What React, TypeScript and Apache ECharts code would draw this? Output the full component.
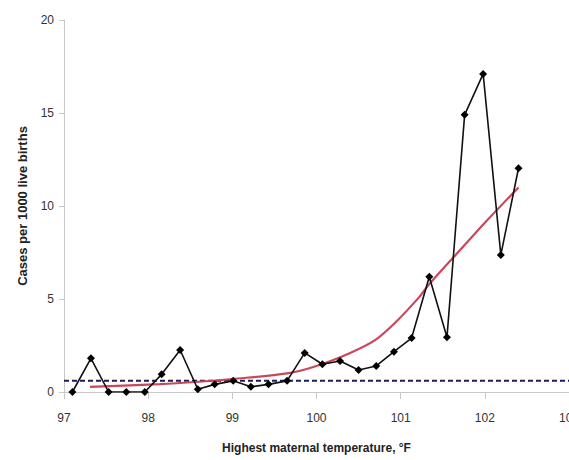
import React, { useEffect, useRef } from "react";
import * as echarts from "echarts";

const tempF = [
  97.1, 97.32, 97.53, 97.74, 97.96, 98.16, 98.38, 98.59, 98.79, 99.01, 99.22, 99.43, 99.65,
  99.86, 100.07, 100.28, 100.5, 100.71, 100.92, 101.13, 101.34, 101.55, 101.76, 101.98, 102.19, 102.4,
];
const cases = [
  0, 1.81, 0, 0, 0, 0.95, 2.26, 0.15, 0.41, 0.6, 0.28, 0.41, 0.6, 2.1, 1.49, 1.67, 1.18, 1.4,
  2.17, 2.9, 6.2, 2.94, 14.9, 17.1, 7.37, 12.03,
];
const fitX = [97.31, 98.14, 98.6, 99.0, 99.65, 100.0, 100.4, 100.7, 100.94, 101.22, 101.34, 101.76, 102.0, 102.4];
const fitY = [0.28, 0.42, 0.55, 0.7, 1.0, 1.4, 2.1, 2.8, 3.75, 5.1, 5.8, 7.9, 9.1, 11.0];
const baselineX = [97, 103];
const baselineValue = 0.6;
const xTicks = [97, 98, 99, 100, 101, 102, 103];
const yTicks = [0, 5, 10, 15, 20];

export default function App() {
  const ref = useRef<HTMLDivElement>(null);
  useEffect(() => {
    if (!ref.current) return;
    const chart = echarts.init(ref.current, null, { renderer: "svg" });
    const font = "'Liberation Sans', Arial, sans-serif";
    chart.setOption({
      animation: false,
      backgroundColor: "#ffffff",
      grid: {
        left: 64,
        right: 0,
        top: 20,
        bottom: 68,
        containLabel: false,
        outerBoundsMode: "none",
      },
      xAxis: {
        type: "value",
        min: xTicks[0],
        max: xTicks[xTicks.length - 1],
        interval: 1,
        name: "Highest maternal temperature, °F",
        nameLocation: "middle",
        nameGap: 50,
        nameTextStyle: { fontFamily: font, fontSize: 12, fontWeight: "bold", color: "#222" },
        axisLine: { lineStyle: { color: "#c8c8c8", width: 1 } },
        axisTick: { show: true, length: 7, lineStyle: { color: "#c8c8c8" } },
        axisLabel: { fontFamily: font, fontSize: 12, color: "#333", margin: 20 },
        splitLine: { show: false },
      },
      yAxis: {
        type: "value",
        min: yTicks[0],
        max: yTicks[yTicks.length - 1],
        interval: 5,
        name: "Cases per 1000 live births",
        nameLocation: "middle",
        nameGap: 35,
        nameTextStyle: { fontFamily: font, fontSize: 13, fontWeight: "bold", color: "#222" },
        axisLine: { show: true, lineStyle: { color: "#c8c8c8", width: 1 } },
        axisTick: { show: true, length: 5, lineStyle: { color: "#c8c8c8" } },
        axisLabel: { fontFamily: font, fontSize: 12, color: "#333", margin: 10 },
        splitLine: { show: false },
      },
      series: [
        {
          type: "line",
          data: baselineX.map((x) => [x, baselineValue]),
          symbol: "none",
          lineStyle: { color: "#1c1c5a", width: 2, type: [5, 3] },
          z: 1,
        },
        {
          type: "line",
          data: fitX.map((x, i) => [x, fitY[i]]),
          symbol: "none",
          smooth: 0.3,
          lineStyle: { color: "#c9475a", width: 2.2 },
          z: 2,
        },
        {
          type: "line",
          data: tempF.map((x, i) => [x, cases[i]]),
          symbol: "diamond",
          symbolSize: 8,
          itemStyle: { color: "#000" },
          lineStyle: { color: "#111", width: 1.6 },
          z: 3,
        },
      ],
    });
    return () => chart.dispose();
  }, []);
  return (
    <div
      ref={ref}
      style={{ position: "fixed", left: 0, top: 0, width: 569, height: 460, background: "#fff" }}
    />
  );
}
